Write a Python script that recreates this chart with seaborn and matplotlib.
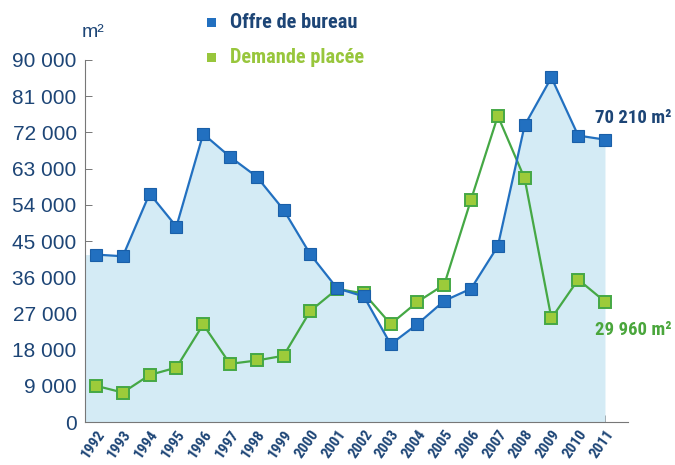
import matplotlib
matplotlib.use("Agg")
import matplotlib.pyplot as plt
from matplotlib.ticker import FuncFormatter
import seaborn as sns
import pandas as pd

years = list(range(1992, 2012))
offre = [41650, 41230, 56800, 48600, 71650, 65950, 61000, 52800, 41700, 33260,
         31250, 19360, 24390, 30170, 33180, 43740, 73740, 85650, 71220, 70210]
demande = [9050, 7370, 11730, 13580, 24300, 14500, 15340, 16510, 27650, 33100,
           32000, 24390, 29900, 34190, 55300, 76100, 60590, 25820, 35450, 29960]
y_ticks = [0, 9000, 18000, 27000, 36000, 45000, 54000, 63000, 72000, 81000, 90000]

sns.set_theme(style="white")
plt.rcParams["font.family"] = ["DejaVu Sans"]

cond = dict(family=["Roboto Condensed", "DejaVu Sans"], fontstretch="condensed",
            fontweight="bold")

navy = "#1d4576"
blue = "#2270c0"
blue_edge = "#1a5fa8"
green_line = "#45a845"
green_fill = "#9ccb3a"
legend_green = "#98c63c"
fill_col = "#d4ebf5"

df = pd.DataFrame({"idx": range(len(years)), "offre": offre, "demande": demande})

fig = plt.figure(figsize=(6.75, 4.65), dpi=100)
ax = fig.add_axes([0.126, 0.092, 0.804, 0.779])

xmin, xmax = -0.41, 19.85
ax.fill_between([xmin] + list(df["idx"]), [offre[0]] + offre, 0,
                color=fill_col, linewidth=0, zorder=1)

sns.lineplot(data=df, x="idx", y="offre", ax=ax, color=blue, lw=1.6,
             marker="s", markersize=8, markerfacecolor=blue,
             markeredgecolor=blue_edge, markeredgewidth=0.8, zorder=4)
sns.lineplot(data=df, x="idx", y="demande", ax=ax, color=green_line, lw=1.6,
             marker="s", markersize=8, markerfacecolor=green_fill,
             markeredgecolor=green_line, markeredgewidth=1.4, zorder=3)

ax.set_xlim(xmin, xmax)
ax.set_ylim(0, 90000)
ax.set_yticks(y_ticks)
ax.yaxis.set_major_formatter(FuncFormatter(lambda v, p: f"{int(v):,}".replace(",", " ")))
ax.set_xticks(range(len(years)))
ax.set_xticklabels([str(y) for y in years], rotation=55, ha="right",
                   rotation_mode="anchor", fontsize=11, color=navy, **cond)
for lab in ax.get_yticklabels():
    lab.set_fontfamily(["Liberation Sans", "DejaVu Sans"])
    lab.set_fontsize(15)
    lab.set_color(navy)
ax.set_xlabel("")
ax.set_ylabel("")

for side in ["top", "right"]:
    ax.spines[side].set_visible(False)
for side in ["left", "bottom"]:
    ax.spines[side].set_color("#777777")
    ax.spines[side].set_linewidth(0.8)
ax.tick_params(axis="both", direction="in", length=5, width=0.7, color="#777777",
               bottom=True, left=True)
ax.tick_params(axis="x", pad=4)
ax.tick_params(axis="y", pad=6)

fig.text(0.121, 0.93, "m²", fontsize=14, color=navy,
         family=["Liberation Sans", "DejaVu Sans"], ha="left", va="center")

# legend
fig.patches.append(plt.Rectangle((0.307, 0.942), 0.013, 0.019, transform=fig.transFigure,
                                 facecolor=blue, edgecolor="none", figure=fig))
fig.patches.append(plt.Rectangle((0.307, 0.866), 0.013, 0.019, transform=fig.transFigure,
                                 facecolor=legend_green, edgecolor="none", figure=fig))
fig.text(0.340, 0.952, "Offre de bureau", fontsize=14.7, color=navy,
         ha="left", va="center", **cond)
fig.text(0.340, 0.876, "Demande placée", fontsize=14.7, color=legend_green,
         ha="left", va="center", **cond)

fig.text(0.995, 0.746, "70 210 m²", fontsize=13.5, color=navy,
         ha="right", va="center", **cond)
fig.text(0.995, 0.29, "29 960 m²", fontsize=13.5, color="#4aa63c",
         ha="right", va="center", **cond)

fig.savefig("out.png", dpi=100)
